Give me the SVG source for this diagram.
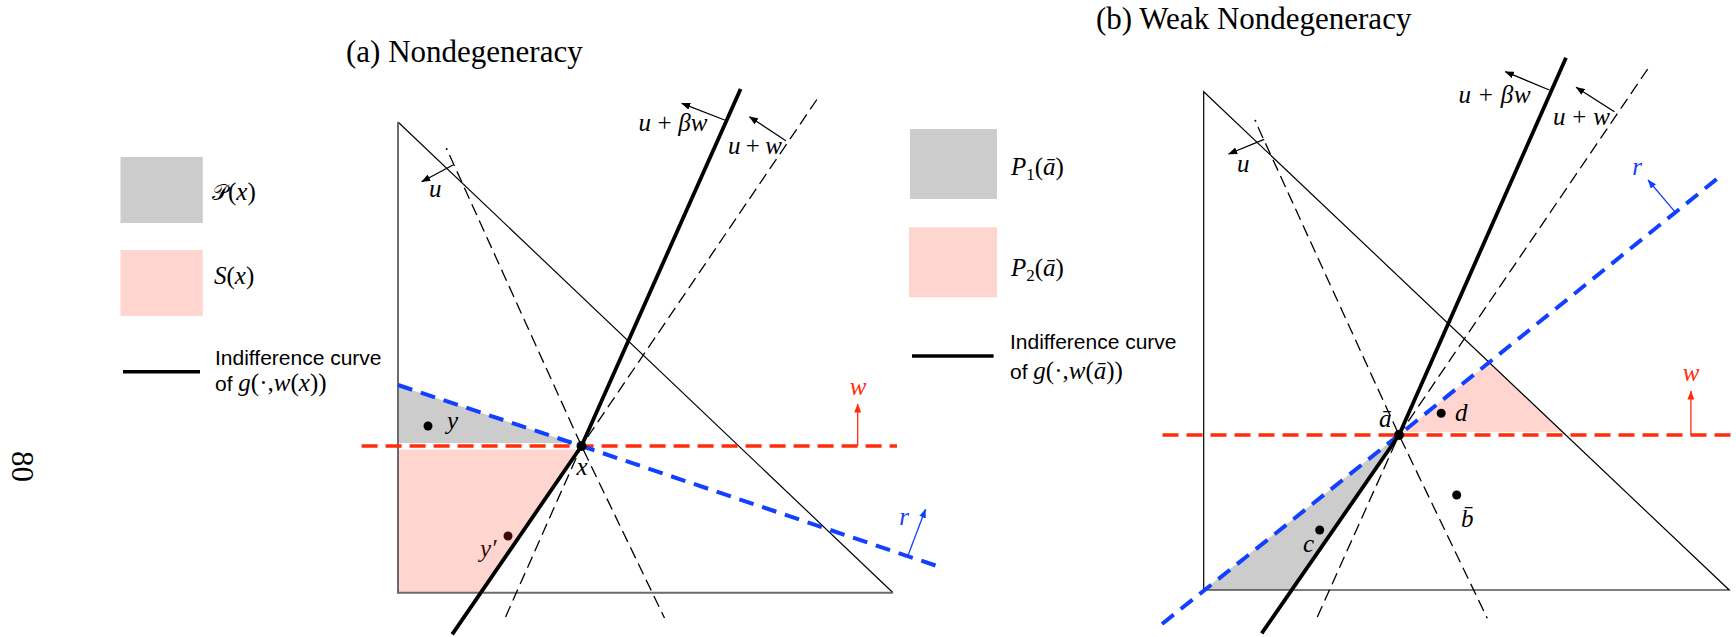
<svg xmlns="http://www.w3.org/2000/svg" width="1736" height="637" viewBox="0 0 1736 637">
<defs>
<style>
.tri{fill:none;stroke:#000;stroke-width:1.2}
.edge{fill:none;stroke:#6b6b6b;stroke-width:2}
.thick{fill:none;stroke:#000;stroke-width:3.8;stroke-linejoin:round}
.dash{fill:none;stroke:#000;stroke-width:1.3;stroke-dasharray:12 6}
.red{fill:none;stroke:#ff2d0a;stroke-width:3.6;stroke-dasharray:16 8}
.blue{fill:none;stroke:#1240ff;stroke-width:4;stroke-dasharray:15 9}
.arr{stroke:#000;stroke-width:1.3;marker-end:url(#hk)}
.arrR{stroke:#ff2d0a;stroke-width:1.3;marker-end:url(#hr)}
.arrB{stroke:#1240ff;stroke-width:1.3;marker-end:url(#hb)}
.gray{fill:#cccccc}
.pink{fill:#ffd5cf}
.m{font-family:"Liberation Serif","DejaVu Serif",serif;font-style:italic;font-size:25px;fill:#000}
.up{font-style:normal}
.lg{font-size:25px}
.cr{fill:#ff2d0a}
.cb{fill:#1240ff}
.cd{fill:#3b0a05}
.sans{font-family:"Liberation Sans",Arial,sans-serif;font-size:21px;fill:#000}
.title{font-family:"Liberation Serif",serif;font-size:31px;fill:#000}
.dot{fill:#000}
</style>
<marker id="hk" markerWidth="9" markerHeight="7" refX="8.5" refY="3.5" orient="auto" markerUnits="userSpaceOnUse"><path d="M0,0 L9,3.5 L0,7 z" fill="#000"/></marker>
<marker id="hr" markerWidth="9" markerHeight="7" refX="8.5" refY="3.5" orient="auto" markerUnits="userSpaceOnUse"><path d="M0,0 L9,3.5 L0,7 z" fill="#ff2d0a"/></marker>
<marker id="hb" markerWidth="9" markerHeight="7" refX="8.5" refY="3.5" orient="auto" markerUnits="userSpaceOnUse"><path d="M0,0 L9,3.5 L0,7 z" fill="#1240ff"/></marker>
</defs>
<rect width="1736" height="637" fill="#fff"/>

<g id="page-number"><text class="title" font-size="30" transform="translate(12,451) rotate(90)">80</text></g>

<!-- Panel (a) -->
<g id="title-a"><text class="title" x="346" y="62">(a) Nondegeneracy</text></g>

<g id="legend-a">
  <g id="legend-a-P"><rect class="gray" x="120.5" y="157" width="82.3" height="66"/>
    <text class="m lg" x="212" y="200"><tspan font-family="DejaVu Serif, DejaVu Sans, serif" font-style="normal" font-size="22">𝒫</tspan><tspan class="up">(</tspan>x<tspan class="up">)</tspan></text></g>
  <g id="legend-a-S"><rect class="pink" x="120.5" y="250" width="82.3" height="66"/>
    <text class="m lg" x="214" y="284">S<tspan class="up">(</tspan>x<tspan class="up">)</tspan></text></g>
  <g id="legend-a-curve"><line x1="123" y1="371.7" x2="200" y2="371.7" stroke="#000" stroke-width="3.4"/>
    <text class="sans" x="215" y="365">Indifference curve</text>
    <text class="sans" x="215" y="390.5">of <tspan class="m">g</tspan><tspan class="m up">(·,</tspan><tspan class="m">w</tspan><tspan class="m up">(</tspan><tspan class="m">x</tspan><tspan class="m up">))</tspan></text></g>
</g>

<g id="regions-a">
  <polygon class="gray" points="398,385.5 581.5,446 572.5,443 398,443"/>
  <polygon class="pink" points="398,449.5 579,449.5 480.7,592.7 398,592.7"/>
</g>

<g id="triangle-a">
  <line class="tri" x1="398" y1="122" x2="893" y2="592.7"/>
  <polyline class="edge" points="398,122 398,592.7 893,592.7"/>
</g>

<g id="connectors-a">
  <line class="red" x1="361.6" y1="446" x2="897" y2="446"/>
  <polyline class="blue" points="398,385 581.5,446 937,566"/>
  <circle cx="446.7" cy="149" r="1" fill="#000"/>
  <polyline class="dash" points="449.5,155 581.5,446 664.5,618"/>
  <polyline class="dash" points="816.9,99.5 581.5,446 504,620.5"/>
  <polyline class="thick" points="740.6,89 581.5,446 452.2,634.3"/>
  <line class="arr" x1="453" y1="165" x2="421.7" y2="181.7"/>
  <line class="arr" x1="724.6" y1="120" x2="681.7" y2="103.3"/>
  <line class="arr" x1="785.8" y1="140.7" x2="749.4" y2="116.7"/>
  <line class="arrR" x1="857.7" y1="446" x2="857.7" y2="404"/>
  <line class="arrB" x1="908.2" y1="555" x2="925.5" y2="509.3"/>
</g>

<g id="points-a">
  <circle class="dot" cx="581.5" cy="446" r="5"/>
  <circle class="dot" cx="428" cy="426" r="4.5"/>
  <circle class="cd" cx="508" cy="536" r="4.5"/>
</g>

<g id="labels-a">
  <text class="m" x="429" y="197">u</text>
  <text class="m" x="638.5" y="131" textLength="69" lengthAdjust="spacing">u <tspan class="up">+</tspan> βw</text>
  <text class="m" x="728" y="154" textLength="54" lengthAdjust="spacing">u <tspan class="up">+</tspan> w</text>
  <text class="m cr" x="858" y="395" text-anchor="middle">w</text>
  <text class="m cb" x="904" y="525" text-anchor="middle">r</text>
  <text class="m" x="582" y="475" text-anchor="middle">x</text>
  <text class="m" x="447" y="429">y</text>
  <text class="m cd" x="480" y="557">y′</text>
</g>

<!-- Panel (b) -->
<g id="title-b"><text class="title" x="1096" y="29">(b) Weak Nondegeneracy</text></g>

<g id="legend-b">
  <g id="legend-b-P1"><rect class="gray" x="910" y="129" width="87" height="70"/>
    <text class="m lg" x="1011" y="175">P<tspan class="up" font-size="17" dy="5">1</tspan><tspan class="up" dy="-5">(</tspan>ā<tspan class="up">)</tspan></text></g>
  <g id="legend-b-P2"><rect class="pink" x="909" y="227.3" width="88" height="70"/>
    <text class="m lg" x="1011" y="276">P<tspan class="up" font-size="17" dy="5">2</tspan><tspan class="up" dy="-5">(</tspan>ā<tspan class="up">)</tspan></text></g>
  <g id="legend-b-curve"><line x1="912" y1="356" x2="993.6" y2="356" stroke="#000" stroke-width="3.4"/>
    <text class="sans" x="1010" y="349">Indifference curve</text>
    <text class="sans" x="1010" y="379">of <tspan class="m">g</tspan><tspan class="m up">(·,</tspan><tspan class="m">w</tspan><tspan class="m up">(</tspan><tspan class="m">ā</tspan><tspan class="m up">))</tspan></text></g>
</g>

<g id="regions-b">
  <polygon class="gray" points="1203.7,590 1399,435 1291.7,590"/>
  <polygon class="pink" points="1402.7,432 1489.3,362.6 1562.6,432"/>
</g>

<g id="triangle-b">
  <polygon class="tri" points="1203.7,91.7 1729.2,590 1203.7,590" stroke-width="1.4"/>
</g>

<g id="connectors-b">
  <line class="red" x1="1162.5" y1="435" x2="1733" y2="435"/>
  <polyline class="blue" points="1162,624 1399,435 1717.7,178.3"/>
  <circle cx="1255.4" cy="120.7" r="1" fill="#000"/>
  <polyline class="dash" points="1258,127 1399,435 1487.3,618.3"/>
  <polyline class="dash" points="1647.7,69 1399,435 1316,620"/>
  <polyline class="thick" points="1566,57.7 1399,435 1261.7,633.4"/>
  <line class="arr" x1="1264.2" y1="139.3" x2="1228.6" y2="154"/>
  <line class="arr" x1="1549.3" y1="90" x2="1505.3" y2="71.7"/>
  <line class="arr" x1="1614.4" y1="111.7" x2="1576.1" y2="87.3"/>
  <line class="arrR" x1="1690.9" y1="435" x2="1690.9" y2="391"/>
  <line class="arrB" x1="1674.8" y1="211.7" x2="1648" y2="180"/>
</g>

<g id="points-b">
  <circle class="dot" cx="1399" cy="435" r="5"/>
  <circle class="dot" cx="1441.2" cy="413.3" r="4.5"/>
  <circle class="dot" cx="1456.7" cy="495" r="4.5"/>
  <circle class="dot" cx="1319.7" cy="530" r="4.5"/>
</g>

<g id="labels-b">
  <text class="m" x="1237" y="172">u</text>
  <text class="m" x="1458.6" y="103" textLength="72" lengthAdjust="spacing">u <tspan class="up">+</tspan> βw</text>
  <text class="m" x="1553" y="125" textLength="57" lengthAdjust="spacing">u <tspan class="up">+</tspan> w</text>
  <text class="m cr" x="1691" y="381" text-anchor="middle">w</text>
  <text class="m cb" x="1637" y="175" text-anchor="middle">r</text>
  <text class="m" x="1379" y="427">ā</text>
  <text class="m" x="1455" y="421">d</text>
  <text class="m" x="1461" y="527">b̄</text>
  <text class="m" x="1303" y="552">c</text>
</g>
</svg>
